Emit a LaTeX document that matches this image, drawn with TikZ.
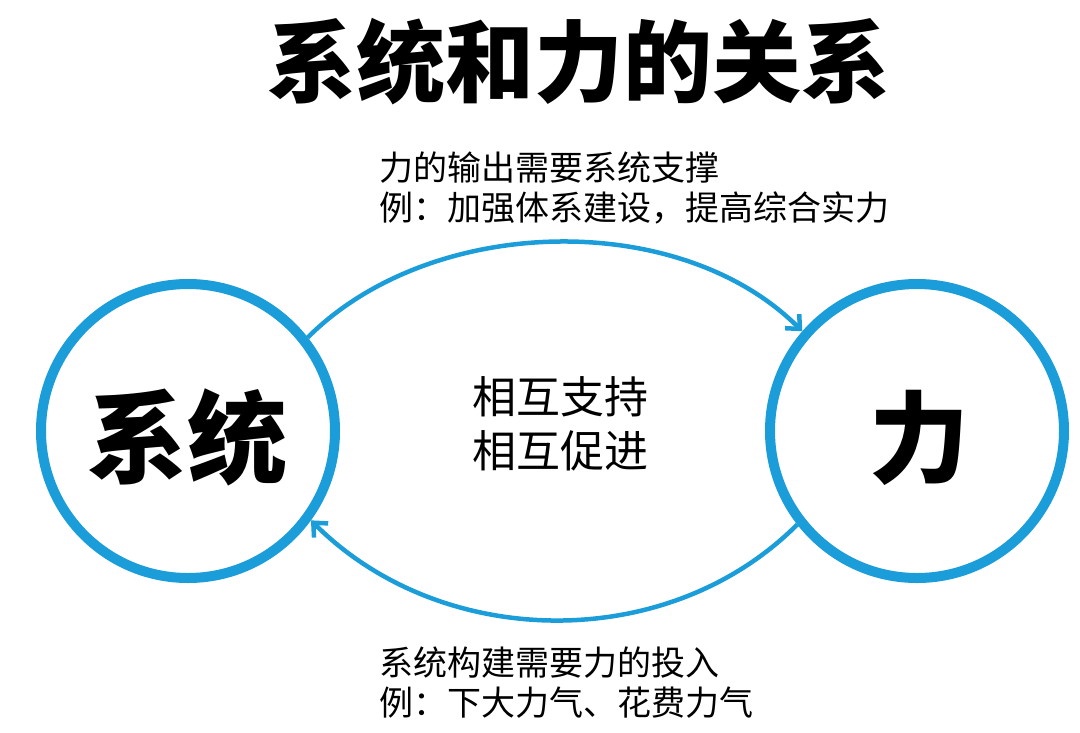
\documentclass[tikz,border=0pt]{standalone}
\usepackage{fontspec}
\newfontfamily\cjk{Noto Sans CJK SC}
\usetikzlibrary{arrows.meta}
\definecolor{sysblue}{RGB}{27,157,217}
\tikzset{
  bigcircle/.style={circle, draw=sysblue, line width=10pt, minimum size=294pt, inner sep=0pt, fill=white},
  flow/.style={draw=sysblue, line width=4.5pt, -{Straight Barb[length=11pt,width=20pt]}},
  label/.style={inner sep=0pt, anchor=west, align=left, font=\cjk\fontsize{34}{40}\selectfont},
}
\begin{document}
\begin{tikzpicture}[x=1pt,y=-1pt]
\useasboundingbox (0,0) rectangle (1080,732);
\node[inner sep=0pt, font=\cjk\bfseries\fontsize{89}{89}\selectfont] (title) at (579,62) {系统和力的关系};
\node[bigcircle] (sys) at (188,431) {};
\node[bigcircle] (li) at (917,431) {};
\node[inner sep=0pt, font=\cjk\bfseries\fontsize{100}{100}\selectfont] (systxt) at (187,437) {系统};
\node[inner sep=0pt, font=\cjk\bfseries\fontsize{100}{100}\selectfont] (litxt) at (919,438) {力};
\draw[flow] (sys.38) to[out=45, in=135, distance=174pt] (li.139);
\draw[flow] (li.218) to[out=225, in=315, distance=184pt] (sys.324);
\node[inner sep=0pt, align=center, font=\cjk\fontsize{44}{54}\selectfont] (mid) at (560,424) {相互支持\\相互促进};
\node[label] (toplab) at (379,188) {力的输出需要系统支撑\\例：加强体系建设，提高综合实力};
\node[label] (botlab) at (379,683) {系统构建需要力的投入\\例：下大力气、花费力气};
\end{tikzpicture}
\end{document}
